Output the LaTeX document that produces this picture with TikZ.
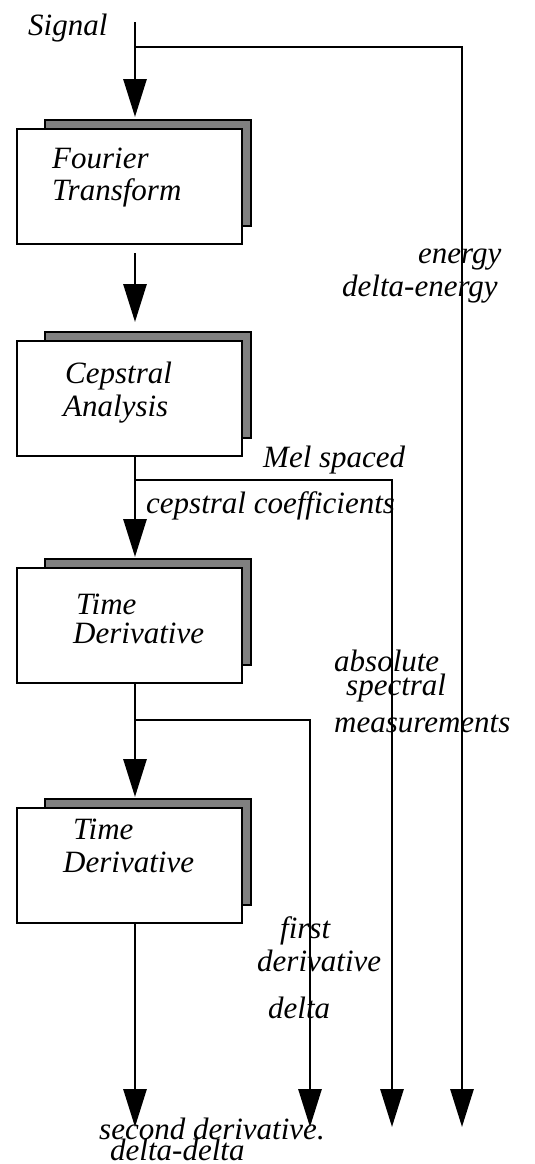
\documentclass[tikz,border=0pt]{standalone}
\usepackage{fontspec}
\setmainfont{Liberation Serif}
\usetikzlibrary{arrows.meta}
\begin{document}
\begin{tikzpicture}[x=1bp,y=-1bp,
  wire/.style={line width=2.9bp},
  flow/.style={wire,-{Triangle[length=38bp,width=23bp]}},
  stage/.style={draw,line width=2bp,fill=white,inner sep=0pt,
    minimum width=225bp,minimum height=115bp},
  backing/.style={draw,line width=2bp,fill=black!50,inner sep=0pt,
    minimum width=206bp,minimum height=106bp},
  lbl/.style={anchor=base west,inner sep=0pt,
    font=\itshape\fontsize{31bp}{36bp}\selectfont}]
\useasboundingbox (0,0) rectangle (535,1164);

% shaded backings behind the processing stages
\node[backing] (sh1) at (148,173) {};
\node[backing] (sh2) at (148,385) {};
\node[backing] (sh3) at (148,612) {};
\node[backing] (sh4) at (148,852) {};

% processing stages
\node[stage] (ft)  at (129.5,186.5) {};
\node[stage] (ca)  at (129.5,398.5) {};
\node[stage] (td1) at (129.5,625.5) {};
\node[stage] (td2) at (129.5,865.5) {};

\node[lbl] (ft1) at (52,168) {Fourier};
\node[lbl] (ft2) at (52,200) {Transform};
\node[lbl] (ca1) at (65,383) {Cepstral};
\node[lbl] (ca2) at (63,416) {Analysis};
\node[lbl] (ta1) at (76,614) {Time};
\node[lbl] (ta2) at (73,643) {Derivative};
\node[lbl] (tb1) at (73,839) {Time};
\node[lbl] (tb2) at (63,872) {Derivative};

% signal path and branch points
\coordinate (src) at (135,22);
\coordinate (j1) at (135,47);
\coordinate (j2) at (135,480);
\coordinate (j3) at (135,720);
\coordinate (outA) at (135,1127);
\coordinate (outB) at (310,1127);
\coordinate (outC) at (392,1127);
\coordinate (outD) at (462,1127);

\draw[flow,shorten >=2bp] (src) -- (sh1.north -| src);
\draw[flow,shorten <=8bp,shorten >=9bp] (ft.south -| src) -- (sh2.north -| src);
\draw[flow] (ca.south -| src) -- ([yshift=1bp]sh3.north -| src);
\draw[flow] (td1.south -| src) -- ([yshift=1bp]sh4.north -| src);
\draw[flow] (td2.south -| src) -- (outA);

\draw[flow] (j1) -| (outD);
\draw[flow] (j2) -| (outC);
\draw[flow] (j3) -| (outB);

% output labels
\node[lbl] (tsig) at (28,35) {Signal};
\node[lbl] (ten1) at (418,263) {energy};
\node[lbl] (ten2) at (342,296) {delta-energy};
\node[lbl] (tmel) at (263,467) {Mel spaced};
\node[lbl] (tcc)  at (146,513) {cepstral coefficients};
\node[lbl] (tab1) at (334,671) {absolute};
\node[lbl] (tab2) at (346,695) {spectral};
\node[lbl] (tab3) at (334,732) {measurements};
\node[lbl] (tfd1) at (280,938) {first};
\node[lbl] (tfd2) at (257,971) {derivative};
\node[lbl] (tfd3) at (268,1018) {delta};
\node[lbl] (tsd1) at (99,1139) {second derivative.};
\node[lbl] (tsd2) at (110,1160) {delta-delta};
\end{tikzpicture}
\end{document}
